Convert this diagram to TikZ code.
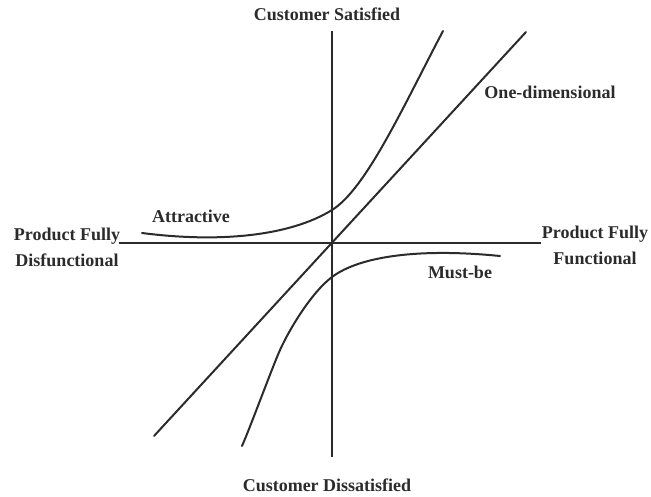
\documentclass[tikz,border=0pt]{standalone}
\usepackage{fontspec}
\setmainfont{Liberation Serif}
\definecolor{ink}{HTML}{2B2B2B}
\begin{document}
\begin{tikzpicture}[x=1pt,y=-1pt,
  lbl/.style={font=\bfseries\fontsize{18}{26}\selectfont, text=ink, inner sep=0pt, align=center},
  axis/.style={line width=2.4pt, draw=ink},
  curve/.style={line width=2pt, draw=ink, line cap=round}]
\useasboundingbox (0,0) rectangle (651,496);
% axes
\coordinate (vt) at (332,31);
\coordinate (vb) at (332,457);
\coordinate (hl) at (119,243);
\coordinate (hr) at (541,243);
\draw[axis] (vt) -- (vb);
\draw[axis] (hl) -- (hr);
% one-dimensional
\coordinate (od1) at (154,436);
\coordinate (od2) at (526,32);
\draw[curve] (od1) -- (od2);
% attractive
\draw[curve] (142,233) .. controls (220,243) and (290,236) .. (332,210)
  .. controls (366,189) and (403,107) .. (443,31);
% must-be
\draw[curve] (242,446) .. controls (250,428) and (272,368) .. (280,350)
  .. controls (290,328) and (312,292) .. (332,277)
  .. controls (360,256) and (420,248) .. (500,256);
% labels
\node[lbl, anchor=base] (cs) at (327,20) {Customer Satisfied};
\node[lbl, anchor=base] (cd) at (327,491) {Customer Dissatisfied};
\node[lbl, anchor=base] (at) at (191,222) {Attractive};
\node[lbl, anchor=base] (od) at (550,98) {One-dimensional};
\node[lbl, anchor=base] (mb) at (460,278) {Must-be};
\node[lbl] (pd) at (67,247) {Product Fully\\Disfunctional};
\node[lbl] (pf) at (595,245) {Product Fully\\Functional};
\end{tikzpicture}
\end{document}
